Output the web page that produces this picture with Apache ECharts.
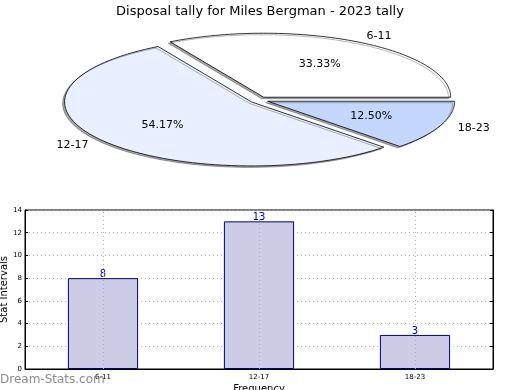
<!DOCTYPE html>
<html><head><meta charset="utf-8">
<script src="https://cdn.jsdelivr.net/npm/echarts@6/dist/echarts.min.js"></script>
<style>html,body{margin:0;padding:0;background:#fff}#c{width:520px;height:390px}</style>
</head><body><div id="c"></div>
<script>
var categories = ['6-11', '12-17', '18-23'];
var values = [8, 13, 3];
var yTicks = [0, 2, 4, 6, 8, 10, 12, 14];
var titleText = 'Disposal tally for Miles Bergman - 2023 tally';

var sliceColors = ['#ffffff', '#eaf0ff', '#c4d8ff'];
var FONT = 'DejaVu Sans';
var total = values.reduce(function (a, b) { return a + b; }, 0);
var PIE = { cx: 259, cy: 100, rx: 187, ry: 64, explode: 0.05 };

function pieItem(params, api) {
  var i = params.dataIndex;
  var before = 0;
  for (var k = 0; k < i; k++) before += values[k];
  var a0 = before / total * 2 * Math.PI;
  var a1 = (before + values[i]) / total * 2 * Math.PI;
  var am = (a0 + a1) / 2;
  var cx = PIE.cx + PIE.explode * PIE.rx * Math.cos(am);
  var cy = PIE.cy - PIE.explode * PIE.ry * Math.sin(am);
  var pts = [[cx, cy]];
  var n = 80;
  for (var s = 0; s <= n; s++) {
    var a = a0 + (a1 - a0) * s / n;
    pts.push([cx + PIE.rx * Math.cos(a), cy - PIE.ry * Math.sin(a)]);
  }
  var lx = cx + 1.1 * PIE.rx * Math.cos(am);
  var ly = cy - 1.1 * PIE.ry * Math.sin(am);
  var px = cx + 0.6 * PIE.rx * Math.cos(am);
  var py = cy - 0.6 * PIE.ry * Math.sin(am);
  var pct = (values[i] / total * 100).toFixed(2) + '%';
  return {
    type: 'group',
    children: [
      { type: 'polygon', shape: { points: pts },
        style: { fill: sliceColors[i], stroke: '#000', lineWidth: 0.8,
                 shadowColor: 'rgba(0,0,0,0.35)', shadowOffsetX: -2, shadowOffsetY: 1.5, shadowBlur: 0 } },
      { type: 'text', x: lx, y: ly,
        style: { text: categories[i], fill: '#000', font: '11px ' + FONT,
                 align: Math.cos(am) >= 0 ? 'left' : 'right', verticalAlign: 'middle' } },
      { type: 'text', x: px, y: py,
        style: { text: pct, fill: '#000', font: '11px ' + FONT,
                 align: 'center', verticalAlign: 'middle' } }
    ]
  };
}

var chart = echarts.init(document.getElementById('c'), null, { renderer: 'canvas' });
chart.setOption({
  animation: false,
  backgroundColor: '#fff',
  textStyle: { fontFamily: FONT },
  title: { text: titleText, left: 'center', top: 0,
           textStyle: { fontFamily: FONT, fontSize: 13, fontWeight: 'normal', color: '#000' } },
  graphic: [{ type: 'text', left: 0, top: 374, z: 100,
              style: { text: 'Dream-Stats.com', fill: '#8c8c8c', font: '12px ' + FONT } }],
  grid: { left: 25, right: 27, top: 210, bottom: 21, show: true, borderColor: '#000', borderWidth: 1,
          containLabel: false, outerBoundsMode: 'none' },
  xAxis: {
    type: 'category', data: categories, boundaryGap: true,
    name: 'Frequency', nameLocation: 'middle', nameGap: 15, nameMoveOverlap: false,
    nameTextStyle: { fontFamily: FONT, fontSize: 10, color: '#000' },
    axisLine: { lineStyle: { color: '#000' } },
    axisTick: { show: false },
    axisLabel: { fontFamily: FONT, fontSize: 7, color: '#000', margin: 5 },
    splitLine: { show: false }
  },
  yAxis: [{
    type: 'value', min: 0, max: 14, interval: 2,
    name: 'Stat Intervals', nameLocation: 'middle', nameGap: 16, nameRotate: 90, nameMoveOverlap: false,
    nameTextStyle: { fontFamily: FONT, fontSize: 10, color: '#000' },
    axisLine: { show: true, lineStyle: { color: '#000' } },
    axisTick: { show: true, inside: true, length: 3, lineStyle: { color: '#000' } },
    axisLabel: { fontFamily: FONT, fontSize: 7, color: '#000', margin: 3,
                 formatter: function (v) { return yTicks.indexOf(v) >= 0 ? String(v) : ''; } },
    splitLine: { show: true, lineStyle: { color: '#b0b0b0', type: [1, 3], width: 1 } }
  }, {
    type: 'value', min: 0, max: 14, interval: 2, position: 'right',
    axisLine: { show: true, lineStyle: { color: '#000' } },
    axisTick: { show: true, inside: true, length: 3, lineStyle: { color: '#000' } },
    axisLabel: { show: false }, splitLine: { show: false }
  }],
  series: [{
    type: 'custom', coordinateSystem: 'none', renderItem: pieItem,
    data: values.map(function (v, i) { return [i, v]; }), silent: true, z: 1
  }, {
    type: 'bar', data: values, barWidth: '45%', yAxisIndex: 0, z: 2,
    itemStyle: { color: '#ccccE6', borderColor: '#000080', borderWidth: 1 },
    label: { show: true, position: 'top', distance: -1, color: '#0000aa', fontFamily: FONT, fontSize: 10 },
    markLine: {
      silent: true, symbol: 'none', label: { show: false },
      lineStyle: { color: '#b0b0b0', type: [1, 3], width: 1 },
      data: categories.map(function (c) { return { xAxis: c }; })
    }
  }]
});
</script></body></html>
